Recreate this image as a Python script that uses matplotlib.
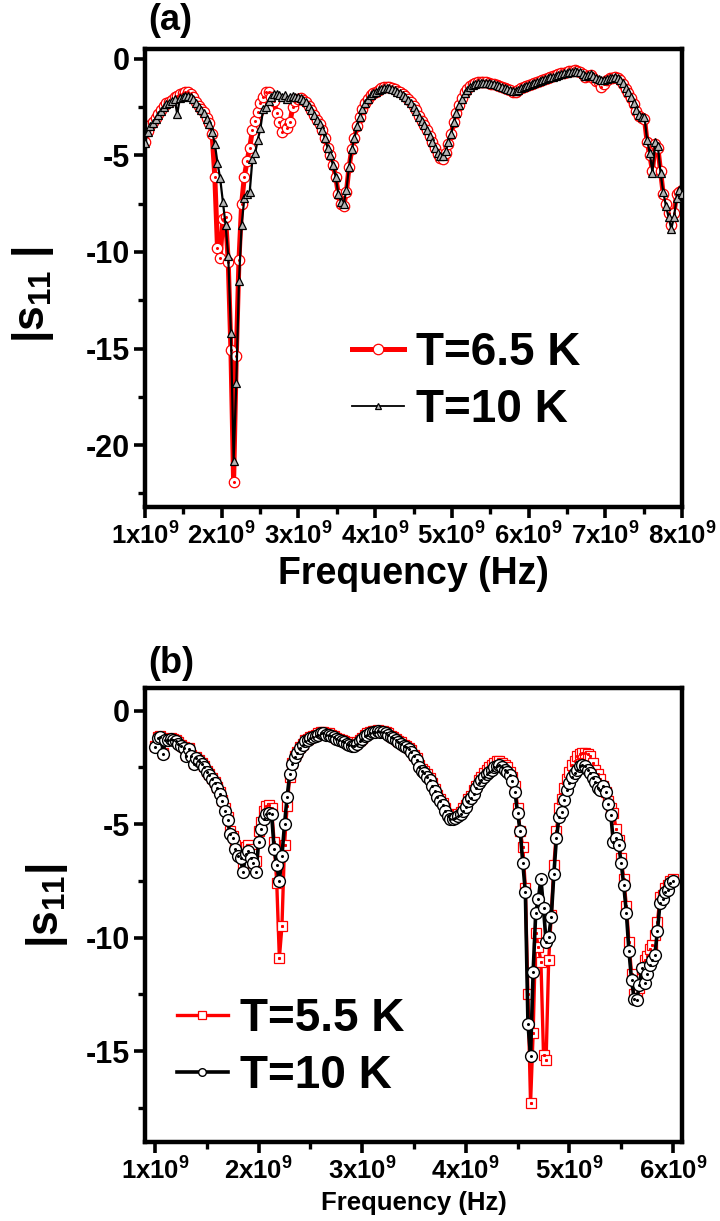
import numpy as np
import matplotlib
matplotlib.use("Agg")
import matplotlib.pyplot as plt
from matplotlib import font_manager
from matplotlib.ticker import MultipleLocator, FuncFormatter

plt.rcParams['font.family'] = ['Liberation Sans', 'DejaVu Sans']
plt.rcParams['font.weight'] = 'bold'
plt.rcParams['mathtext.default'] = 'regular'
plt.rcParams['axes.unicode_minus'] = False

installed = {f.name for f in font_manager.fontManager.ttflist}
NARROW = 'Liberation Sans Narrow' if 'Liberation Sans Narrow' in installed else None

# panel (a): 201-point sweep 1-8 GHz
freq_a = np.linspace(1e9, 8e9, 201)
s11_a_10K = [
    -4.35, -3.8, -3.5, -3.35, -3.1, -2.9, -2.7, -2.5, -2.35, -2.3,
    -2.2, -2.1, -2.85, -2.05, -2.0, -1.95, -1.95, -2.0, -2.1, -2.3,
    -2.5, -2.65, -2.8, -3.1, -3.4, -3.8, -4.4, -5.4, -6.2, -7.4,
    -8.6, -10.2, -14.2, -20.8, -16.8, -11.5, -8.6, -7.2, -7.0, -6.9,
    -5.2, -4.9, -4.2, -3.6, -2.6, -2.5, -2.2, -2.0, -1.85, -1.85,
    -1.9, -2.0, -1.9, -2.1, -2.0, -1.95, -2.0, -2.0, -2.05, -2.15,
    -2.25, -2.45, -2.65, -2.9, -3.15, -3.4, -3.7, -4.1, -4.6, -5.0,
    -5.5, -6.1, -7.0, -7.4, -7.5, -6.8, -5.6, -4.7, -4.1, -3.5,
    -3.0, -2.6, -2.3, -2.1, -1.9, -1.8, -1.7, -1.6, -1.55, -1.5,
    -1.5, -1.5, -1.55, -1.6, -1.7, -1.8, -1.9, -2.0, -2.15, -2.3,
    -2.5, -2.7, -3.0, -3.2, -3.45, -3.7, -4.0, -4.3, -4.6, -4.9,
    -5.05, -5.05, -4.8, -4.3, -3.9, -3.3, -2.8, -2.4, -2.1, -1.8,
    -1.6, -1.45, -1.35, -1.3, -1.25, -1.25, -1.25, -1.25, -1.25, -1.3,
    -1.3, -1.35, -1.4, -1.45, -1.5, -1.55, -1.6, -1.65, -1.65, -1.6,
    -1.5, -1.45, -1.4, -1.35, -1.3, -1.25, -1.2, -1.15, -1.1, -1.05,
    -1.0, -0.95, -0.95, -0.9, -0.85, -0.8, -0.75, -0.75, -0.7, -0.7,
    -0.65, -0.7, -0.7, -0.8, -0.9, -0.85, -0.8, -0.9, -1.0, -1.05,
    -1.1, -1.1, -1.05, -1.0, -1.0, -0.95, -1.0, -1.1, -1.25, -1.5,
    -1.75, -2.0, -2.3, -2.65, -2.9, -3.0, -3.0, -4.2, -4.9, -5.9,
    -4.3, -4.5, -5.9, -6.9, -7.6, -8.2, -8.8, -8.2, -7.2, -6.8,
    -7.0,
]
s11_a_6p5K = [
    -4.3, -3.75, -3.45, -3.3, -3.05, -2.85, -2.65, -2.45, -2.3, -2.25,
    -2.15, -2.0, -1.95, -1.85, -1.8, -1.7, -1.75, -1.85, -2.0, -2.25,
    -2.45, -2.6, -2.75, -3.05, -3.35, -3.9, -6.1, -9.8, -10.3, -8.3,
    -8.2, -10.5, -15.1, -21.9, -15.4, -10.4, -7.5, -6.1, -5.3, -4.6,
    -3.7, -3.2, -2.75, -2.3, -2.0, -1.7, -1.75, -2.0, -2.2, -2.8,
    -3.3, -3.8, -3.4, -3.6, -3.3, -2.5, -2.2, -2.1, -2.05, -2.15,
    -2.25, -2.45, -2.65, -2.9, -3.15, -3.4, -3.7, -4.1, -4.6, -5.0,
    -5.5, -6.1, -7.0, -7.5, -7.6, -6.9, -5.6, -4.7, -4.1, -3.5,
    -3.0, -2.6, -2.3, -2.1, -1.9, -1.8, -1.7, -1.6, -1.5, -1.45,
    -1.45, -1.45, -1.5, -1.55, -1.65, -1.75, -1.85, -1.95, -2.1, -2.25,
    -2.45, -2.65, -2.95, -3.2, -3.45, -3.7, -4.0, -4.3, -4.6, -4.95,
    -5.15, -5.2, -4.9, -4.4, -3.9, -3.3, -2.8, -2.4, -2.05, -1.75,
    -1.55, -1.4, -1.3, -1.25, -1.2, -1.2, -1.2, -1.2, -1.25, -1.3,
    -1.3, -1.35, -1.4, -1.45, -1.5, -1.55, -1.6, -1.7, -1.7, -1.6,
    -1.5, -1.45, -1.4, -1.35, -1.3, -1.25, -1.2, -1.15, -1.1, -1.05,
    -1.0, -0.95, -0.9, -0.85, -0.8, -0.75, -0.75, -0.7, -0.65, -0.65,
    -0.6, -0.65, -0.7, -0.8, -0.95, -0.9, -0.85, -1.0, -1.15, -1.2,
    -1.45, -1.3, -1.1, -1.0, -1.0, -0.95, -1.0, -1.1, -1.3, -1.55,
    -1.8, -2.05, -2.35, -2.7, -2.95, -3.05, -3.1, -4.3, -5.0, -5.8,
    -4.4, -4.6, -5.8, -7.0, -7.5, -8.0, -8.6, -8.0, -7.0, -6.9,
    -6.8,
]

# panel (b): 201-point sweep 1-6 GHz
freq_b = np.linspace(1e9, 6e9, 201)
s11_b_10K = [
    -1.6, -1.2, -1.15, -1.9, -1.3, -1.3, -1.25, -1.3, -1.35, -1.45,
    -1.55, -1.65, -2.0, -1.7, -2.0, -2.35, -2.1, -2.2, -2.35, -2.5,
    -2.7, -2.85, -3.0, -3.2, -3.4, -3.65, -4.0, -4.4, -4.8, -5.45,
    -5.6, -6.1, -6.4, -6.5, -7.1, -6.3, -6.2, -6.5, -6.7, -7.1,
    -5.8, -5.2, -4.75, -4.55, -4.5, -4.55, -6.1, -6.8, -7.5, -6.4,
    -5.0, -3.8, -2.8, -2.35, -2.05, -1.85, -1.65, -1.5, -1.35, -1.3,
    -1.2, -1.15, -1.1, -1.05, -1.0, -1.0, -1.05, -1.05, -1.1, -1.15,
    -1.25, -1.3, -1.35, -1.4, -1.45, -1.5, -1.55, -1.55, -1.45, -1.35,
    -1.25, -1.1, -1.05, -1.0, -0.95, -0.95, -0.9, -0.95, -0.95, -1.0,
    -1.05, -1.15, -1.2, -1.3, -1.4, -1.45, -1.55, -1.6, -1.7, -1.8,
    -2.0, -2.15, -2.5, -2.65, -2.75, -2.9, -3.05, -3.3, -3.55, -3.8,
    -4.0, -4.15, -4.4, -4.65, -4.75, -4.75, -4.72, -4.65, -4.55, -4.4,
    -4.25, -4.0, -3.85, -3.65, -3.4, -3.2, -3.05, -2.9, -2.8, -2.7,
    -2.6, -2.5, -2.42, -2.4, -2.5, -2.6, -2.7, -2.85, -3.1, -3.6,
    -4.5, -5.3, -6.7, -8.0, -13.8, -15.2, -11.5, -8.9, -8.3, -7.4,
    -8.7, -10.2, -9.95, -9.1, -7.2, -5.6, -4.7, -4.45, -3.95, -3.5,
    -3.2, -2.9, -2.75, -2.6, -2.45, -2.4, -2.45, -2.6, -2.75, -2.95,
    -3.15, -3.4, -3.5, -3.3, -3.6, -4.1, -4.6, -5.8, -5.6, -5.9,
    -6.7, -7.7, -8.9, -10.6, -11.85, -12.7, -12.75, -12.1, -11.35, -12.0,
    -11.6, -11.2, -11.0, -10.75, -9.7, -8.45, -8.3, -8.0, -7.9, -7.6,
    -7.5,
]
s11_b_5p5K = [
    -1.55, -1.15, -1.1, -1.85, -1.25, -1.25, -1.2, -1.25, -1.3, -1.4,
    -1.5, -1.6, -1.95, -1.65, -1.95, -2.3, -2.05, -2.15, -2.3, -2.45,
    -2.65, -2.8, -2.95, -3.15, -3.35, -3.6, -3.95, -4.3, -4.7, -5.3,
    -5.5, -5.9, -6.2, -6.3, -6.8, -6.0, -5.9, -6.1, -6.3, -6.6,
    -5.3, -4.9, -4.4, -4.2, -4.15, -4.3, -5.8, -7.6, -10.9, -9.5,
    -5.9, -4.2, -2.9, -2.3, -2.0, -1.8, -1.6, -1.45, -1.3, -1.25,
    -1.15, -1.1, -1.05, -1.0, -0.95, -0.95, -1.0, -1.0, -1.05, -1.1,
    -1.2, -1.25, -1.3, -1.35, -1.4, -1.45, -1.5, -1.5, -1.4, -1.3,
    -1.2, -1.05, -1.0, -0.95, -0.9, -0.9, -0.85, -0.9, -0.9, -0.95,
    -1.0, -1.1, -1.15, -1.25, -1.35, -1.4, -1.5, -1.55, -1.65, -1.75,
    -1.95, -2.1, -2.4, -2.55, -2.65, -2.8, -2.95, -3.2, -3.45, -3.7,
    -3.9, -4.05, -4.3, -4.55, -4.65, -4.65, -4.6, -4.55, -4.45, -4.3,
    -4.15, -3.9, -3.75, -3.5, -3.3, -3.05, -2.9, -2.75, -2.6, -2.5,
    -2.4, -2.3, -2.2, -2.2, -2.3, -2.4, -2.5, -2.7, -2.9, -3.3,
    -4.3, -5.3, -6.0, -7.8, -12.5, -17.3, -14.2, -9.8, -10.4, -11.05,
    -15.15, -15.4, -11.0, -9.0, -6.8, -5.3, -4.3, -3.9, -3.4, -3.0,
    -2.7, -2.4, -2.2, -2.0, -1.9, -1.85, -1.85, -1.9, -2.0, -2.3,
    -2.6, -2.8, -3.0, -3.3, -3.6, -4.0, -4.3, -4.5, -5.2, -5.7,
    -6.5, -7.4, -8.6, -10.2, -11.6, -12.5, -12.6, -12.2, -11.4, -11.0,
    -10.8, -10.5, -10.3, -9.9, -9.3, -8.2, -8.1, -7.8, -7.7, -7.5,
    -7.4,
]

W, H = 720, 1221
fig = plt.figure(figsize=(W / 100, H / 100), dpi=100)


def box(left, top, right, bottom):
    return [left / W, 1 - bottom / H, (right - left) / W, (bottom - top) / H]


def ghz_label(v, pos):
    return f'{int(round(v / 1e9))}x10$^{{9}}$'


def style_axes(ax, ytick_size, xtick_size):
    for sp in ax.spines.values():
        sp.set_linewidth(3.2)
    ax.tick_params(which='major', direction='out', length=8, width=2.6,
                   top=False, right=False, pad=3)
    ax.tick_params(which='minor', direction='out', length=5, width=2.4,
                   top=False, right=False)
    ax.yaxis.set_major_locator(MultipleLocator(5))
    ax.yaxis.set_minor_locator(MultipleLocator(2.5))
    ax.xaxis.set_major_locator(MultipleLocator(1e9))
    ax.xaxis.set_minor_locator(MultipleLocator(0.5e9))
    ax.xaxis.set_major_formatter(FuncFormatter(ghz_label))
    for lab in ax.get_yticklabels():
        lab.set_fontsize(ytick_size)
        lab.set_fontweight('bold')
    for lab in ax.get_xticklabels():
        lab.set_fontweight('bold')
        if NARROW:
            lab.set_family([NARROW, 'Liberation Sans'])
            lab.set_fontsize(xtick_size * 1.2)
        else:
            lab.set_fontsize(xtick_size)


# ---- panel (a)
ax1 = fig.add_axes(box(145, 49, 682, 507))
ax1.plot(freq_a, s11_a_6p5K, '-', color='red', lw=3.6, marker='o', ms=7.5,
         mfc='white', mec='red', mew=0.9, label='T=6.5 K', zorder=2)
ax1.plot(freq_a, s11_a_6p5K, ls='none', marker='o', ms=1.2, color='red', zorder=2)
ax1.plot(freq_a, s11_a_10K, '-', color='black', lw=1.6, marker='^', ms=6,
         mfc='#b5b5b5', mec='black', mew=0.9, label='T=10 K', zorder=3)
ax1.set_xlim(1e9, 8e9)
ax1.set_ylim(-23.2, 0.5)
style_axes(ax1, 22, 18.5)
ax1.set_xlabel('Frequency (Hz)', fontsize=27, fontweight='bold', labelpad=5)
ax1.set_ylabel('|s$_{11}$ |', fontsize=32, fontweight='bold')
ax1.yaxis.set_label_coords(-0.165, 0.465)
leg1 = ax1.legend(loc='upper left', bbox_to_anchor=(0.385, 0.385), frameon=False,
                  fontsize=33, handlelength=1.15, handletextpad=0.25,
                  labelspacing=0.3, borderpad=0, borderaxespad=0)
leg1.legend_handles[0].set_markersize(7.5)
leg1.legend_handles[1].set_markersize(4.5)
leg1.legend_handles[1].set_linewidth(1.3)
for t in leg1.get_texts():
    t.set_fontweight('bold')
fig.text(148 / W, 1 - 21 / H, '(a)', fontsize=26, fontweight='bold', va='center')

# ---- panel (b)
ax2 = fig.add_axes(box(145, 688, 682, 1142))
ax2.plot(freq_b, s11_b_5p5K, '-', color='red', lw=2.4, marker='s', ms=6.5,
         mfc='white', mec='red', mew=0.9, label='T=5.5 K', zorder=2)
ax2.plot(freq_b, s11_b_5p5K, ls='none', marker='s', ms=1.2, color='red', zorder=2)
ax2.plot(freq_b, s11_b_10K, '-', color='black', lw=2.6, marker='o', ms=8.5,
         mfc='white', mec='black', mew=1.0, label='T=10 K', zorder=3)
ax2.plot(freq_b, s11_b_10K, ls='none', marker='o', ms=1.2, color='black', zorder=3)
ax2.set_xlim(0.903e9, 6.087e9)
ax2.set_ylim(-19.0, 1.0)
style_axes(ax2, 22, 18.5)
if NARROW:
    ax2.set_xlabel('Frequency (Hz)', fontsize=22, fontweight='bold', labelpad=5,
                   family=[NARROW, 'Liberation Sans'])
else:
    ax2.set_xlabel('Frequency (Hz)', fontsize=18.5, fontweight='bold', labelpad=5)
ax2.set_ylabel('|s$_{11}$|', fontsize=32, fontweight='bold')
ax2.yaxis.set_label_coords(-0.14, 0.52)
h, l = ax2.get_legend_handles_labels()
leg2 = ax2.legend(h[:2], l[:2], loc='upper left', bbox_to_anchor=(0.06, 0.32),
                  frameon=False, fontsize=33, handlelength=1.1, handletextpad=0.28,
                  labelspacing=0.3, borderpad=0, borderaxespad=0)
leg2.legend_handles[0].set_markersize(5.5)
leg2.legend_handles[1].set_markersize(5.5)
for t in leg2.get_texts():
    t.set_fontweight('bold')
fig.text(148 / W, 1 - 664 / H, '(b)', fontsize=26, fontweight='bold', va='center')

fig.savefig('out.png', dpi=100)
